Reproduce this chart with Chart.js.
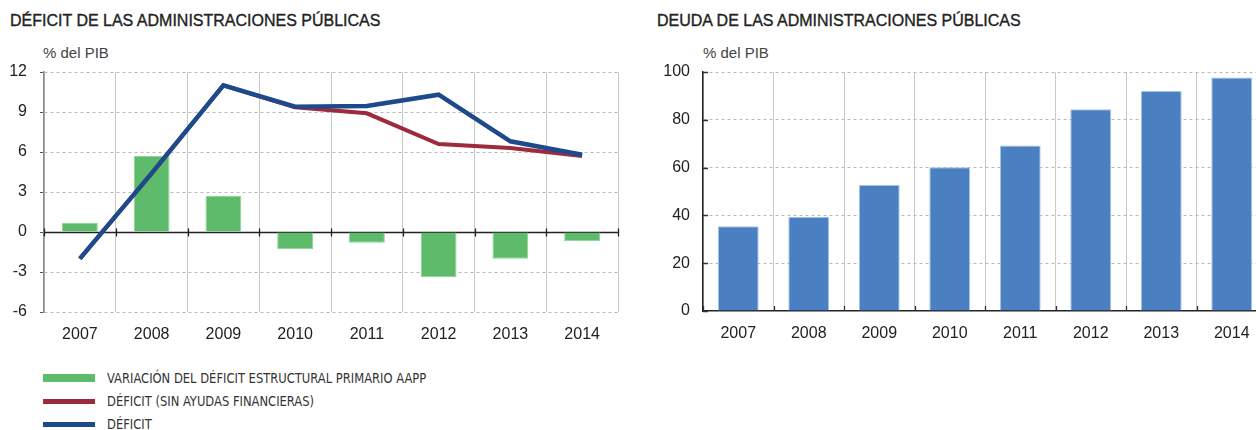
<!DOCTYPE html>
<html>
<head>
<meta charset="utf-8">
<script src="https://cdn.jsdelivr.net/npm/chart.js@4.4.0/dist/chart.umd.min.js"></script>
<style>
  html, body { margin: 0; padding: 0; background: #fff; overflow: hidden; width: 1256px; height: 430px; }
  body { position: relative; font-family: "Liberation Sans", Arial, sans-serif; }
  .title { position: absolute; top: 12px; font-size: 16px; color: #222; -webkit-text-stroke: 0.35px #222; white-space: nowrap; line-height: 18px; }
  .unit { position: absolute; top: 44px; font-size: 15px; color: #444; white-space: nowrap; line-height: 17px; }
  .box { position: absolute; top: 0; width: 640px; height: 350px; }
  #legend { position: absolute; left: 43px; top: 368px; font-family: "Liberation Sans Narrow", "DejaVu Sans Condensed", sans-serif; font-size: 14.5px; color: #333; }
  .item { position: relative; height: 23px; line-height: 20px; white-space: nowrap; }
  .sw { position: absolute; left: 0; width: 52px; }
  .lbl { position: absolute; left: 64px; top: 0; transform: scaleX(0.885); transform-origin: 0 50%; }
</style>
</head>
<body>
<div class="title" style="left:10px">DÉFICIT DE LAS ADMINISTRACIONES PÚBLICAS</div>
<div class="title" style="left:657px">DEUDA DE LAS ADMINISTRACIONES PÚBLICAS</div>
<div class="unit" style="left:43px">% del PIB</div>
<div class="unit" style="left:703px">% del PIB</div>
<div class="box" style="left:0"><canvas id="deficitChart"></canvas></div>
<div class="box" style="left:640px"><canvas id="deudaChart"></canvas></div>
<div id="legend"></div>
<script>
const years = ['2007', '2008', '2009', '2010', '2011', '2012', '2013', '2014'];
const variacionEstructural = [0.7, 5.7, 2.7, -1.3, -0.8, -3.4, -2.0, -0.7];
const deficitSinAyudas = [-2.0, 4.4, 11.0, 9.35, 8.9, 6.6, 6.3, 5.7];
const deficit = [-2.0, 4.4, 11.0, 9.4, 9.45, 10.3, 6.8, 5.8];
const deuda = [35.5, 39.4, 52.7, 60.1, 69.2, 84.4, 92.1, 97.7];
const deficitTicks = [-6, -3, 0, 3, 6, 9, 12];
const deudaTicks = [0, 20, 40, 60, 80, 100];

const tickFont = { family: '"Liberation Sans", Arial, sans-serif', size: 16 };
const gridDash = [3, 3];

// category boundaries of a category scale (between bars)
function boundaries(x, area) {
    const out = [area.left];
    for (let i = 1; i < x.ticks.length; i++) {
        out.push((x.getPixelForValue(i - 1) + x.getPixelForValue(i)) / 2);
    }
    out.push(area.right);
    return out;
}

const zeroLine = {
    id: 'zeroLine',
    beforeDatasetsDraw(chart) {
        const { ctx, chartArea, scales: { x, y } } = chart;
        const y0 = Math.round(y.getPixelForValue(0)) + 0.5;
        ctx.save();
        ctx.strokeStyle = '#222';
        ctx.lineWidth = 1.3;
        ctx.beginPath();
        ctx.moveTo(chartArea.left, y0);
        ctx.lineTo(chartArea.right, y0);
        boundaries(x, chartArea).forEach(px => {
            ctx.moveTo(Math.round(px) + 0.5, y0 - 4);
            ctx.lineTo(Math.round(px) + 0.5, y0 + 4);
        });
        ctx.stroke();
        ctx.restore();
    }
};

const innerTicks = {
    id: 'innerTicks',
    afterDatasetsDraw(chart) {
        const { ctx, chartArea, scales: { x, y } } = chart;
        ctx.save();
        ctx.strokeStyle = '#333';
        ctx.lineWidth = 1.3;
        ctx.beginPath();
        y.ticks.forEach(t => {
            const py = Math.round(y.getPixelForValue(t.value)) + 0.5;
            ctx.moveTo(chartArea.left, py);
            ctx.lineTo(chartArea.left + 5, py);
        });
        boundaries(x, chartArea).forEach(px => {
            ctx.moveTo(Math.round(px) + 0.5, chartArea.bottom);
            ctx.lineTo(Math.round(px) + 0.5, chartArea.bottom - 5);
        });
        ctx.stroke();
        ctx.restore();
    }
};

const ctxDeficit = document.getElementById('deficitChart').getContext('2d');
const ctxDeuda = document.getElementById('deudaChart').getContext('2d');

const deficitChart = new Chart(ctxDeficit, {
    type: 'bar',
    data: {
        labels: years,
        datasets: [{
            label: 'VARIACIÓN DEL DÉFICIT ESTRUCTURAL PRIMARIO AAPP',
            data: variacionEstructural,
            backgroundColor: '#5dbb6b',
            borderColor: '#8fd49a',
            borderWidth: 1,
            barPercentage: 0.5,
            categoryPercentage: 1,
            order: 2
        }, {
            type: 'line',
            label: 'DÉFICIT (SIN AYUDAS FINANCIERAS)',
            data: deficitSinAyudas,
            borderColor: '#9e2a3e',
            backgroundColor: '#9e2a3e',
            borderWidth: 4,
            pointRadius: 0,
            tension: 0,
            order: 1
        }, {
            type: 'line',
            label: 'DÉFICIT',
            data: deficit,
            borderColor: '#1e4a8c',
            backgroundColor: '#1e4a8c',
            borderWidth: 4.5,
            pointRadius: 0,
            tension: 0,
            order: 0
        }]
    },
    options: {
        responsive: true,
        maintainAspectRatio: false,
        animation: false,
        layout: { padding: { left: 0, right: 22, top: 72, bottom: 0 } },
        plugins: { legend: { display: false }, tooltip: { enabled: false } },
        scales: {
            x: {
                grid: { offset: true, color: '#c9c9c9', lineWidth: 1, drawTicks: false },
                border: { display: false },
                ticks: { font: tickFont, color: '#222', padding: 13 },
                afterFit: s => { s.height = 38; }
            },
            y: {
                min: -6,
                max: 12,
                afterBuildTicks: s => { s.ticks = deficitTicks.map(v => ({ value: v })); },
                grid: {
                    color: c => (c.tick && c.tick.value === 0) ? 'rgba(0,0,0,0)' : '#b9b9b9',
                    tickColor: '#555',
                    tickLength: 4,
                    lineWidth: 1
                },
                border: { color: '#8a8a8a', width: 1.5, dash: gridDash },
                ticks: { font: tickFont, color: '#222', padding: 13 },
                afterFit: s => { s.width = 44; }
            }
        }
    },
    plugins: [zeroLine]
});

const deudaChart = new Chart(ctxDeuda, {
    type: 'bar',
    data: {
        labels: years,
        datasets: [{
            label: 'Deuda',
            data: deuda,
            backgroundColor: '#4a80c2',
            borderColor: '#a9c4e8',
            borderWidth: 1,
            barPercentage: 0.58,
            categoryPercentage: 1
        }]
    },
    options: {
        responsive: true,
        maintainAspectRatio: false,
        animation: false,
        layout: { padding: { left: 0, right: 13, top: 72, bottom: 0 } },
        plugins: { legend: { display: false }, tooltip: { enabled: false } },
        scales: {
            x: {
                grid: { offset: true, color: '#c9c9c9', lineWidth: 1, drawTicks: false },
                border: { color: '#222', width: 1.5 },
                ticks: { font: tickFont, color: '#222', padding: 13 },
                afterFit: s => { s.height = 39; }
            },
            y: {
                min: 0,
                max: 100,
                afterBuildTicks: s => { s.ticks = deudaTicks.map(v => ({ value: v })); },
                grid: {
                    color: c => (c.tick && c.tick.value === 0) ? 'rgba(0,0,0,0)' : '#b9b9b9',
                    drawTicks: false,
                    lineWidth: 1
                },
                border: { color: '#222', width: 1.5, dash: gridDash },
                ticks: { font: tickFont, color: '#222', padding: 13 },
                afterFit: s => { s.width = 63; }
            }
        }
    },
    plugins: [innerTicks]
});

// legend built from the deficit chart datasets
const legend = document.getElementById('legend');
deficitChart.data.datasets.forEach(ds => {
    const item = document.createElement('div');
    item.className = 'item';
    const sw = document.createElement('div');
    sw.className = 'sw';
    const h = ds.type === 'line' ? 5 : 8;
    sw.style.height = h + 'px';
    sw.style.top = (10 - h / 2) + 'px';
    sw.style.background = ds.type === 'line' ? ds.borderColor : ds.backgroundColor;
    const lbl = document.createElement('div');
    lbl.className = 'lbl';
    lbl.textContent = ds.label;
    item.appendChild(sw);
    item.appendChild(lbl);
    legend.appendChild(item);
});
</script>
</body>
</html>
